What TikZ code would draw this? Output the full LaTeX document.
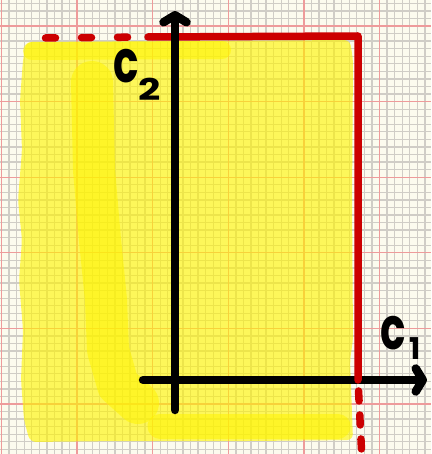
\documentclass[tikz,border=0pt]{standalone}
\usepackage{fontspec}
\setmainfont{Poppins}
\usetikzlibrary{arrows.meta}
\definecolor{paper}{RGB}{252,251,238}
\definecolor{gridgray}{RGB}{208,205,198}
\definecolor{gridpink}{RGB}{238,155,155}
\definecolor{marker}{RGB}{255,245,0}
\definecolor{boundred}{RGB}{204,0,0}
\tikzset{
  minorline/.style={gridgray, line width=1.3pt},
  majorline/.style={gridpink, line width=1.3pt},
  highlight/.style={fill=marker, fill opacity=0.62, draw=none},
  hlstroke/.style={draw=marker, draw opacity=0.55, line cap=round, line join=round},
  axisline/.style={line width=8.5pt, line cap=round, black, -{Straight Barb[length=7pt, width=23pt, round]}},
  boundline/.style={boundred, line width=7.5pt, line cap=round, line join=round},
  axislabel/.style={font=\fontsize{56}{56}\selectfont\bfseries, inner sep=0pt}
}
\begin{document}
\begin{tikzpicture}[x=1pt, y=-1pt]
\useasboundingbox (0,0) rectangle (431,454);
\clip (0,0) rectangle (431,454);
\fill[paper] (0,0) rectangle (431,454);
% graph paper
\foreach \i in {0,...,56}{
  \draw[minorline] ({1.5+7.56*\i},0) -- ++(0,454);}
\foreach \i in {-3,...,56}{
  \draw[minorline] (0,{26+7.56*\i}) -- ++(431,0);}
\foreach \i in {0,...,5}{
  \draw[majorline] ({1.5+75.6*\i},0) -- ++(0,454);
  \draw[majorline] (0,{26+75.6*\i}) -- ++(431,0);}
% marker
\fill[highlight, rounded corners=6pt] (26,42) -- (200,41) -- (350,40) -- (353,60) -- (352,200)
  -- (353,340) -- (350,360) -- (353,440) -- (250,441) -- (120,441) -- (30,442) -- (24,420)
  -- (21,380) -- (23,330) -- (19,280) -- (22,240) -- (18,200) -- (22,150) -- (20,100) -- (23,60) -- cycle;
\draw[hlstroke, line width=18pt] (32,51) -- (222,50);
\draw[hlstroke, line width=42pt] (92,82) -- (94,170) -- (100,240) -- (106,300) -- (108,350) -- (118,385) -- (138,403);
\draw[hlstroke, line width=25pt] (160,426) -- (338,426);
% axes and bound
\coordinate (ybot) at (175,410);
\coordinate (ytop) at (175,11);
\coordinate (xleft) at (143,380);
\coordinate (xright) at (427,380);
\coordinate (tl) at (148,37);
\coordinate (tr) at (358,36);
\coordinate (br) at (358,380);
\coordinate (dashend) at (43,38);
\coordinate (dashbot) at (362,460);
\draw[axisline] (xleft) -- (xright);
\draw[boundline] (tl) -- (tr) -- (br);
\draw[boundline, dash pattern=on 10pt off 26pt, dash phase=15.5pt] (tl) -- (dashend);
\draw[boundline, dash pattern=on 10pt off 14pt, dash phase=13pt] (br) -- (dashbot);
\draw[axisline] (ybot) -- (ytop);
\node[axislabel, anchor=base west] (ctwo) at (113,83) {\scalebox{0.75}[1.05]{c}\raisebox{-18pt}{\scalebox{1.3}[1]{\fontsize{30}{30}\selectfont 2}}};
\node[axislabel, anchor=base west] (cone) at (380,349) {\scalebox{0.75}[1.05]{c}\hspace{4pt}\raisebox{-10pt}{\fontsize{30}{30}\selectfont 1}};
\end{tikzpicture}
\end{document}
